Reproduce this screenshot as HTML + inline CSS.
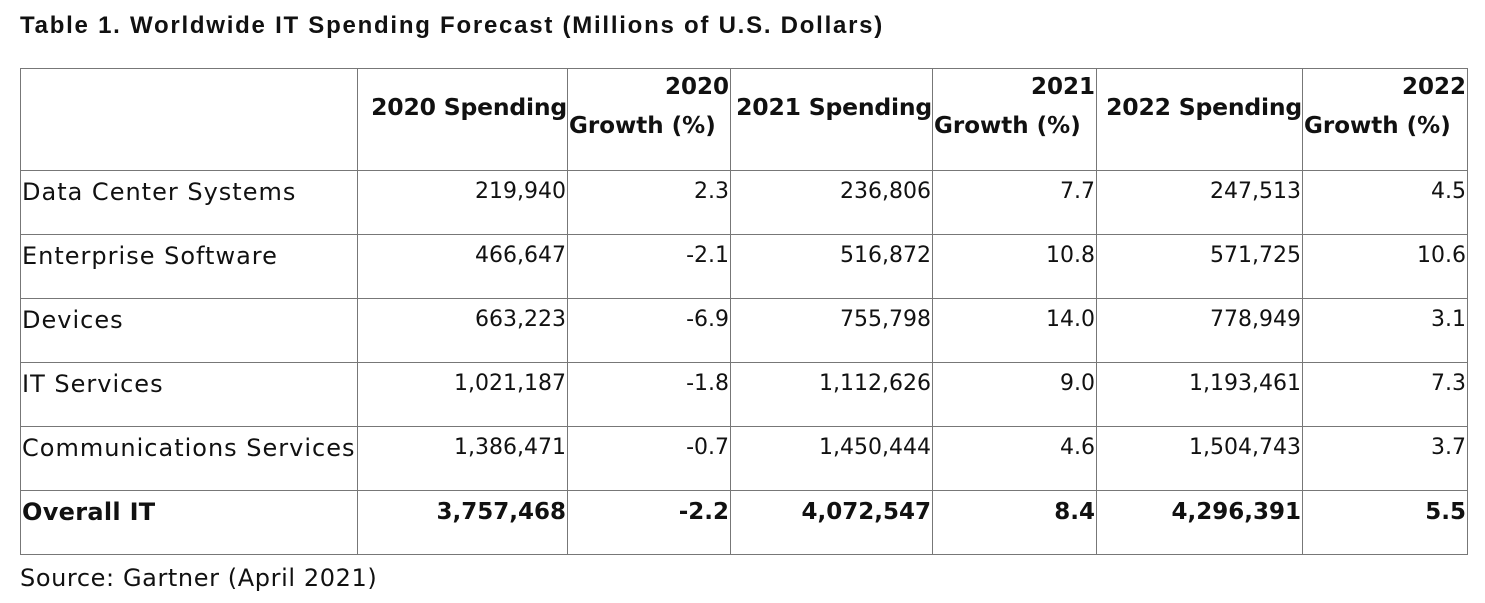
<!DOCTYPE html>
<html><head><meta charset="utf-8">
<style>
body{margin:0;width:1485px;height:603px;background:#fff;font-family:"DejaVu Sans",sans-serif;color:#111;position:relative;overflow:hidden}
#title{position:absolute;left:20px;top:12px;font-family:"Liberation Sans",sans-serif;font-size:24px;font-weight:bold;letter-spacing:1.75px;white-space:nowrap}
table{position:absolute;left:20px;top:68px;border-collapse:collapse;table-layout:fixed;width:1447px}
td{border:1px solid #777;padding:8px 1px 0 1px;font-size:22px;white-space:nowrap;vertical-align:top;height:55px;text-align:right;overflow:visible}
td.l{text-align:left;font-size:24px;letter-spacing:1px;padding-top:7px;height:56px}
tr.h td{height:101px;font-weight:bold;padding:0 1px;vertical-align:top}
tr.h td.s{padding:24px 0 0 0;height:77px;font-size:23.5px;letter-spacing:-0.2px}
tr.b td{font-weight:bold;font-size:23px}
tr.b td.l{font-size:24px;letter-spacing:0.3px}
.g{position:relative;height:101px;font-size:23px}
.g .y{position:absolute;right:1px;top:5px}
.g .t{position:absolute;left:1px;top:44px}
#src{position:absolute;left:20px;top:564px;font-size:24px;letter-spacing:0.6px;white-space:nowrap}
</style></head><body>
<div id="title">Table 1. Worldwide IT Spending Forecast (Millions of U.S. Dollars)</div>
<table>
<colgroup><col style="width:337px"><col style="width:210px"><col style="width:163px"><col style="width:202px"><col style="width:164px"><col style="width:206px"><col style="width:165px"></colgroup>
<tr class="h">
<td></td>
<td class="s">2020 Spending</td>
<td style="padding:0"><div class="g"><span class="y">2020</span><span class="t">Growth (%)</span></div></td>
<td class="s">2021 Spending</td>
<td style="padding:0"><div class="g"><span class="y">2021</span><span class="t">Growth (%)</span></div></td>
<td class="s">2022 Spending</td>
<td style="padding:0"><div class="g"><span class="y">2022</span><span class="t">Growth (%)</span></div></td>
</tr>
<tr><td class="l">Data Center Systems</td><td>219,940</td><td>2.3</td><td>236,806</td><td>7.7</td><td>247,513</td><td>4.5</td></tr>
<tr><td class="l">Enterprise Software</td><td>466,647</td><td>-2.1</td><td>516,872</td><td>10.8</td><td>571,725</td><td>10.6</td></tr>
<tr><td class="l">Devices</td><td>663,223</td><td>-6.9</td><td>755,798</td><td>14.0</td><td>778,949</td><td>3.1</td></tr>
<tr><td class="l">IT Services</td><td>1,021,187</td><td>-1.8</td><td>1,112,626</td><td>9.0</td><td>1,193,461</td><td>7.3</td></tr>
<tr><td class="l">Communications Services</td><td>1,386,471</td><td>-0.7</td><td>1,450,444</td><td>4.6</td><td>1,504,743</td><td>3.7</td></tr>
<tr class="b"><td class="l">Overall IT</td><td>3,757,468</td><td>-2.2</td><td>4,072,547</td><td>8.4</td><td>4,296,391</td><td>5.5</td></tr>
</table>
<div id="src">Source: Gartner (April 2021)</div>
</body></html>
